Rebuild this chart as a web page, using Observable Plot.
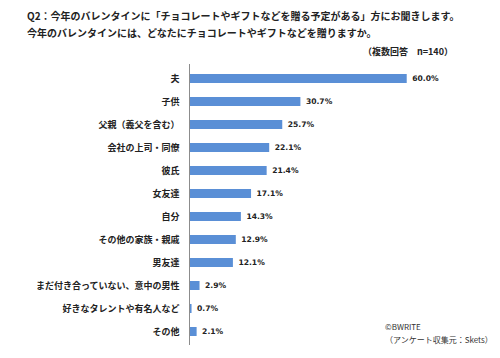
<!DOCTYPE html>
<html>
<head>
<meta charset="utf-8">
<script src="https://cdn.jsdelivr.net/npm/d3@7"></script>
<script src="https://cdn.jsdelivr.net/npm/@observablehq/plot@0.6"></script>
<style>
  html, body { margin: 0; padding: 0; background: #fff; }
  body { width: 500px; height: 358px; position: relative; overflow: hidden;
         font-family: "Noto Sans CJK JP", sans-serif; color: #222; }
  .t { position: absolute; font-size: 10px; font-weight: bold; line-height: 12px; white-space: nowrap; }
  .f { position: absolute; font-size: 8px; line-height: 10px; white-space: nowrap; color: #333; }
  #chart { position: absolute; left: 0; top: 60px; }
</style>
</head>
<body>
<div class="t" style="left:27px; top:10px;">Q2：今年のバレンタインに「チョコレートやギフトなどを贈る予定がある」方にお聞きします。</div>
<div class="t" style="left:27px; top:27px;">今年のバレンタインには、どなたにチョコレートやギフトなどを贈りますか。</div>
<div class="t" style="right:47px; top:46px; font-size:9px;">（複数回答　n=140）</div>
<div id="chart"></div>
<div class="f" style="left:385px; top:322px;">©BWRITE</div>
<div class="f" style="left:385px; top:335px;">（アンケート収集元：Skets）</div>
<script>
const categories = [
  "夫", "子供", "父親（義父を含む）", "会社の上司・同僚", "彼氏", "女友達",
  "自分", "その他の家族・親戚", "男友達", "まだ付き合っていない、意中の男性",
  "好きなタレントや有名人など", "その他"
];
const values = [60.0, 30.7, 25.7, 22.1, 21.4, 17.1, 14.3, 12.9, 12.1, 2.9, 0.7, 2.1];

const data = categories.map((c, i) => ({category: c, value: values[i]}));

const plot = Plot.plot({
  width: 500,
  height: 298,
  marginLeft: 189,
  marginRight: 57,
  marginTop: 4,
  marginBottom: 13,
  style: {fontFamily: "'Noto Sans CJK JP', sans-serif", color: "#222", background: "#fff"},
  x: {domain: [0, 70], axis: null},
  y: {domain: categories, paddingInner: 0.63, paddingOuter: 0.315, label: null},
  marks: [
    Plot.barX(data, {y: "category", x: "value", fill: "#5a8fd6"}),
    Plot.ruleX([0], {stroke: "#8c8c8c", strokeWidth: 1}),
    Plot.axisY({tickSize: 0, tickPadding: 10, fontSize: 9, fontWeight: "bold", label: null}),
    Plot.text(data, {
      y: "category", x: "value", text: d => d.value.toFixed(1) + "%",
      dx: 5, textAnchor: "start", fontSize: 7.6, fontWeight: "bold",
      fontFamily: "'DejaVu Sans', sans-serif", fill: "#222"
    })
  ]
});
document.getElementById("chart").appendChild(plot);
</script>
</body>
</html>
